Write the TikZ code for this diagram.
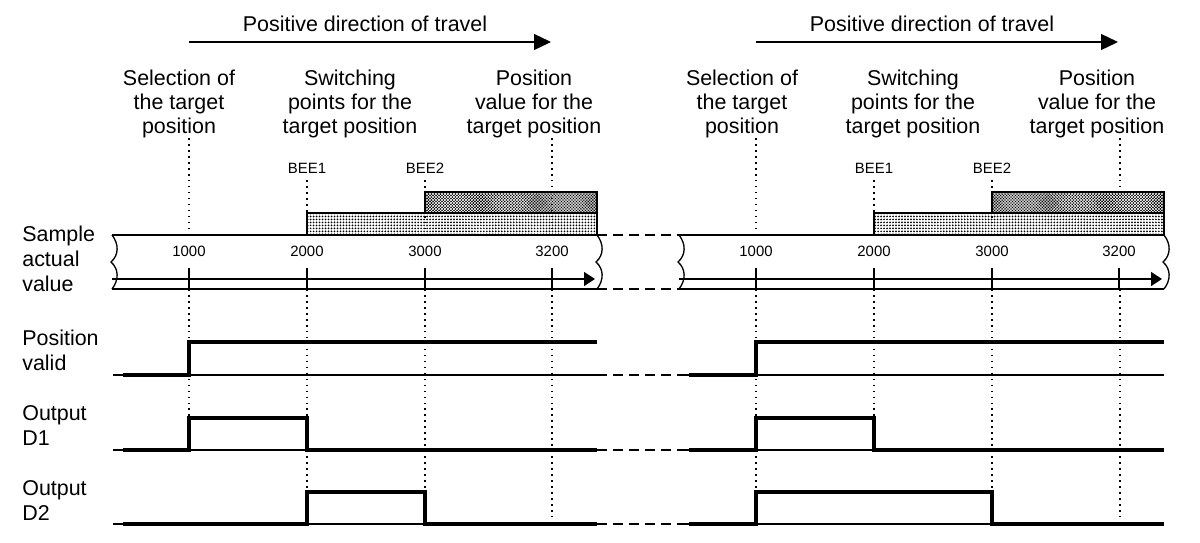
\documentclass[tikz,border=0pt]{standalone}
\usepackage{fontspec}
\setmainfont{Liberation Sans}
\usetikzlibrary{arrows.meta,patterns}
\newcommand{\hdrfont}{\fontsize{12.2pt}{13.6pt}\selectfont}
\newcommand{\lblfont}{\fontsize{12.2pt}{14.2pt}\selectfont}
\newcommand{\smlfont}{\fontsize{8.5pt}{10pt}\selectfont}
\pgfdeclarepatternformonly{lightdots}{\pgfqpoint{-1pt}{-1pt}}{\pgfqpoint{1pt}{1pt}}{\pgfqpoint{1.7pt}{1.7pt}}{\pgfpathcircle{\pgfqpoint{0pt}{0pt}}{0.55pt}\pgfusepath{fill}}
\pgfdeclarepatternformonly{densedots}{\pgfqpoint{-1pt}{-1pt}}{\pgfqpoint{2pt}{2pt}}{\pgfqpoint{1.7pt}{1.7pt}}{\pgfpathcircle{\pgfqpoint{0pt}{0pt}}{0.52pt}\pgfpathcircle{\pgfqpoint{0.85pt}{0.85pt}}{0.52pt}\pgfusepath{fill}}
\tikzset{
  x=0.02cm, y=-0.02cm,
  thin line/.style={line width=0.75pt},
  signal/.style={line width=2pt, line join=miter},
  guide/.style={line width=0.85pt, dash pattern=on 0.95pt off 2.45pt},
  gap line/.style={line width=0.75pt, dash pattern=on 5.7pt off 3.4pt},
  hdr/.style={anchor=north, inner sep=0pt, align=center, font=\hdrfont},
  lbl/.style={anchor=north west, inner sep=0pt, align=left, font=\lblfont},
  sml/.style={anchor=north, inner sep=0pt, font=\smlfont},
  tapebreak/.pic={\draw[thin line] (0,0) .. controls (7,9) and (7,20) .. (-1,27) .. controls (7,34) and (7,45) .. (0,54);}
}

\begin{document}
\begin{tikzpicture}
\useasboundingbox (0,0) rectangle (1200,542);

\node[lbl] (tape lbl) at (22,226) {Sample\\actual\\value};
\node[lbl] (valid lbl) at (22,330) {Position\\valid};
\node[lbl] (d1 lbl) at (22,405) {Output\\D1};
\node[lbl] (d2 lbl) at (22,480) {Output\\D2};

\foreach \p/\o/\h in {L/0/0,R/567/563}{
  \node[anchor=north, inner sep=0pt, font=\hdrfont] (dir\p) at (365+\o,16) {Positive direction of travel};
  \draw[thin line, -{Triangle[length=3.4mm, width=3.2mm]}] (189+\o,42) -- (551+\o,42);
  \node[hdr] (sel\p) at (179+\h,70) {Selection of\\the target\\position};
  \node[hdr] (sw\p) at (350+\h,70) {Switching\\points for the\\target position};
  \node[hdr] (val\p) at (534+\h,70) {Position\\value for the\\target position};
  \node[sml] (bee1\p) at (307+\o,163) {BEE1};
  \node[sml] (bee2\p) at (425+\o,163) {BEE2};
  \fill[pattern=lightdots] (307+\o,213) rectangle (597+\o,235);
  \fill[pattern=densedots] (425+\o,192) rectangle (597+\o,213);
  \draw[thin line] (307+\o,235) -- (307+\o,213) -- (597+\o,213);
  \draw[thin line] (425+\o,213) -- (425+\o,192) -- (597+\o,192) -- (597+\o,235);
  \draw[thin line] (112+\o,235) -- (597+\o,235);
  \draw[thin line] (112+\o,289) -- (597+\o,289);
  \draw[thin line, -{Triangle[length=2.2mm, width=2.8mm]}] (112+\o,279) -- (595+\o,279);
  \pic at (112+\o,235) {tapebreak};
  \pic at (597+\o,235) {tapebreak};
  \foreach \t/\x in {1000/189,2000/307,3000/425,3200/552}{
    \node[sml] (p\t\p) at (\x+\o,246) {\t};
    \draw[line width=0.9pt] (\x+\o,268) -- (\x+\o,289);
  }
  \draw[thin line] (113+\o,375) -- (597+\o,375);
  \draw[thin line] (113+\o,450) -- (597+\o,450);
  \draw[thin line] (113+\o,524) -- (597+\o,524);
}

\foreach \x/\a/\b in {189/138/418,307/180/492,425/180/492,552/138/517,756/138/492,874/180/418,992/180/492,1120/138/517}{
  \draw[guide] (\x,\a) -- (\x,235);
  \draw[guide] (\x,289) -- (\x,\b);
}

\draw[gap line] (597,235) -- (679,235);
\draw[gap line] (597,289) -- (679,289);
\foreach \y in {375,450,524}
  \draw[gap line] (597,\y) -- (680,\y);

\draw[signal] (123,375) -- (189,375) -- (189,342) -- (597,342);
\draw[signal] (123,450) -- (189,450) -- (189,418) -- (307,418) -- (307,450) -- (597,450);
\draw[signal] (123,524) -- (307,524) -- (307,492) -- (425,492) -- (425,524) -- (597,524);

\draw[signal] (689,375) -- (756,375) -- (756,342) -- (1164,342);
\draw[signal] (689,450) -- (756,450) -- (756,418) -- (874,418) -- (874,450) -- (1164,450);
\draw[signal] (689,524) -- (756,524) -- (756,492) -- (992,492) -- (992,524) -- (1164,524);
\end{tikzpicture}
\end{document}
